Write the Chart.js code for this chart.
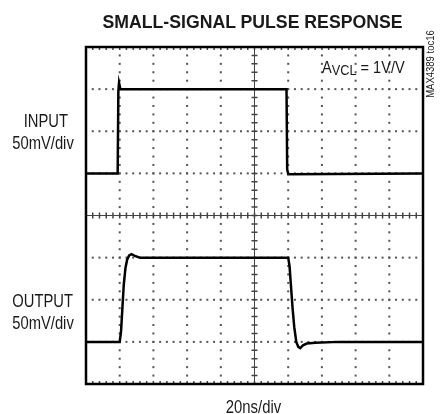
<!DOCTYPE html>
<html>
<head>
<meta charset="utf-8">
<script src="https://cdn.jsdelivr.net/npm/chart.js@4"></script>
<style>
    body { margin: 0; background: #fff; }
    #wrap { position: relative; width: 441px; height: 414px; }
    #scope { position: absolute; left: 0; top: 0; }
    .lbl {
        position: absolute;
        font-family: "Liberation Sans Narrow", "Liberation Sans", Arial, sans-serif;
        color: #1a1a1a;
        white-space: nowrap;
        line-height: 1;
    }
    .side {
        left: 0; width: 68px; text-align: right; font-size: 18px;
        transform: scaleX(0.82); transform-origin: right center;
    }
</style>
</head>
<body>
<div id="wrap">
    <canvas id="scope" width="441" height="414"></canvas>
    <div class="lbl" style="left:0;width:505px;text-align:center;top:11.6px;font-size:19px;font-weight:bold;transform:scaleX(0.93);transform-origin:center;">SMALL-SIGNAL PULSE RESPONSE</div>
    <div class="lbl side" style="top:112px;">INPUT</div>
    <div class="lbl side" style="top:134px;">50mV/div</div>
    <div class="lbl side" style="top:292px;">OUTPUT</div>
    <div class="lbl side" style="top:314px;">50mV/div</div>
    <div class="lbl" style="left:321.5px;top:59.6px;font-size:16px;transform:scaleX(0.91);transform-origin:left center;">A<span style="font-size:14px;position:relative;top:2.5px;">VCL</span> = 1V/V</div>
    <div class="lbl" style="left:0;width:507px;text-align:center;top:398.5px;font-size:17.5px;transform:scaleX(0.85);transform-origin:center;">20ns/div</div>
    <div class="lbl" style="left:395px;top:59px;font-size:10px;transform:rotate(-90deg) scaleX(0.95);transform-origin:center;width:72px;text-align:center;">MAX4389 toc16</div>
</div>
<script>
// screen divisions
const xDivs = 10;
const yDivs = 8;
const minorPerDiv = 5;

// input trace (x in divisions, y in divisions from bottom)
const inputX = [0, 0.94, 0.96, 0.98, 1.02, 5.95, 5.97, 6.0, 10];
const inputY = [5.0, 5.0, 6.95, 7.15, 7.0, 7.0, 5.1, 4.98, 5.0];

// output trace
const outputX = [0, 1.0, 1.04, 1.08, 1.12, 1.17, 1.22, 1.28, 1.35, 1.45, 1.6, 1.8, 6.0, 6.04, 6.08, 6.13, 6.18, 6.24, 6.3, 6.36, 6.44, 6.55, 6.8, 7.5, 10];
const outputY = [1.0, 1.0, 1.25, 1.8, 2.35, 2.75, 2.95, 3.05, 3.08, 3.04, 3.0, 3.0, 3.0, 2.8, 2.35, 1.8, 1.35, 1.0, 0.88, 0.85, 0.92, 0.96, 0.98, 1.0, 1.0];

function toPoints(xs, ys) {
    return xs.map((x, i) => ({ x: x, y: ys[i] }));
}

const scopeGrid = {
    id: 'scopeGrid',
    beforeDatasetsDraw(chart) {
        const ctx = chart.ctx;
        const xs = chart.scales.x;
        const ys = chart.scales.y;
        const left = xs.getPixelForValue(0), right = xs.getPixelForValue(xDivs);
        const top = ys.getPixelForValue(yDivs), bottom = ys.getPixelForValue(0);
        ctx.save();
        ctx.fillStyle = '#555';
        const step = 1 / minorPerDiv;

        // dotted graticule lines
        for (let i = 1; i < yDivs; i++) {
            if (i === yDivs / 2) continue;
            const py = ys.getPixelForValue(i);
            for (let v = 0; v <= xDivs + 1e-9; v += step) {
                ctx.fillRect(xs.getPixelForValue(v) - 1, py - 1, 2, 2);
            }
        }
        for (let i = 1; i < xDivs; i++) {
            if (i === xDivs / 2) continue;
            const px = xs.getPixelForValue(i);
            for (let v = 0; v <= yDivs + 1e-9; v += step) {
                ctx.fillRect(px - 1, ys.getPixelForValue(v) - 1, 2, 2);
            }
        }

        // centre axes with minor ticks
        ctx.strokeStyle = '#444';
        ctx.lineWidth = 1;
        const cx = xs.getPixelForValue(xDivs / 2);
        const cy = ys.getPixelForValue(yDivs / 2);
        ctx.beginPath();
        ctx.moveTo(left, cy); ctx.lineTo(right, cy);
        ctx.moveTo(cx, top); ctx.lineTo(cx, bottom);
        ctx.stroke();
        ctx.lineWidth = 1.5;
        ctx.beginPath();
        for (let v = 0; v <= xDivs + 1e-9; v += step) {
            const px = xs.getPixelForValue(v);
            ctx.moveTo(px, cy - 3); ctx.lineTo(px, cy + 3);
            ctx.moveTo(px, top); ctx.lineTo(px, top + 3);
            ctx.moveTo(px, bottom); ctx.lineTo(px, bottom - 3);
        }
        for (let v = 0; v <= yDivs + 1e-9; v += step) {
            const py = ys.getPixelForValue(v);
            ctx.moveTo(cx - 3, py); ctx.lineTo(cx + 3, py);
        }
        ctx.stroke();
        ctx.restore();
    },
    afterDraw(chart) {
        const ctx = chart.ctx;
        const a = chart.chartArea;
        ctx.save();
        ctx.strokeStyle = '#000';
        ctx.lineWidth = 2.5;
        ctx.strokeRect(a.left, a.top, a.right - a.left, a.bottom - a.top);
        ctx.restore();
    }
};

new Chart(document.getElementById('scope'), {
    type: 'line',
    data: {
        datasets: [
            { label: 'Input', data: toPoints(inputX, inputY) },
            { label: 'Output', data: toPoints(outputX, outputY) }
        ]
    },
    options: {
        responsive: false,
        animation: false,
        layout: { padding: { left: 86, right: 18, top: 47, bottom: 30 } },
        elements: {
            point: { radius: 0 },
            line: { borderColor: '#000', borderWidth: 2.5, tension: 0, fill: false }
        },
        scales: {
            x: { type: 'linear', min: 0, max: xDivs, display: false },
            y: { type: 'linear', min: 0, max: yDivs, display: false }
        },
        plugins: {
            legend: { display: false },
            tooltip: { enabled: false }
        }
    },
    plugins: [scopeGrid]
});
</script>
</body>
</html>
